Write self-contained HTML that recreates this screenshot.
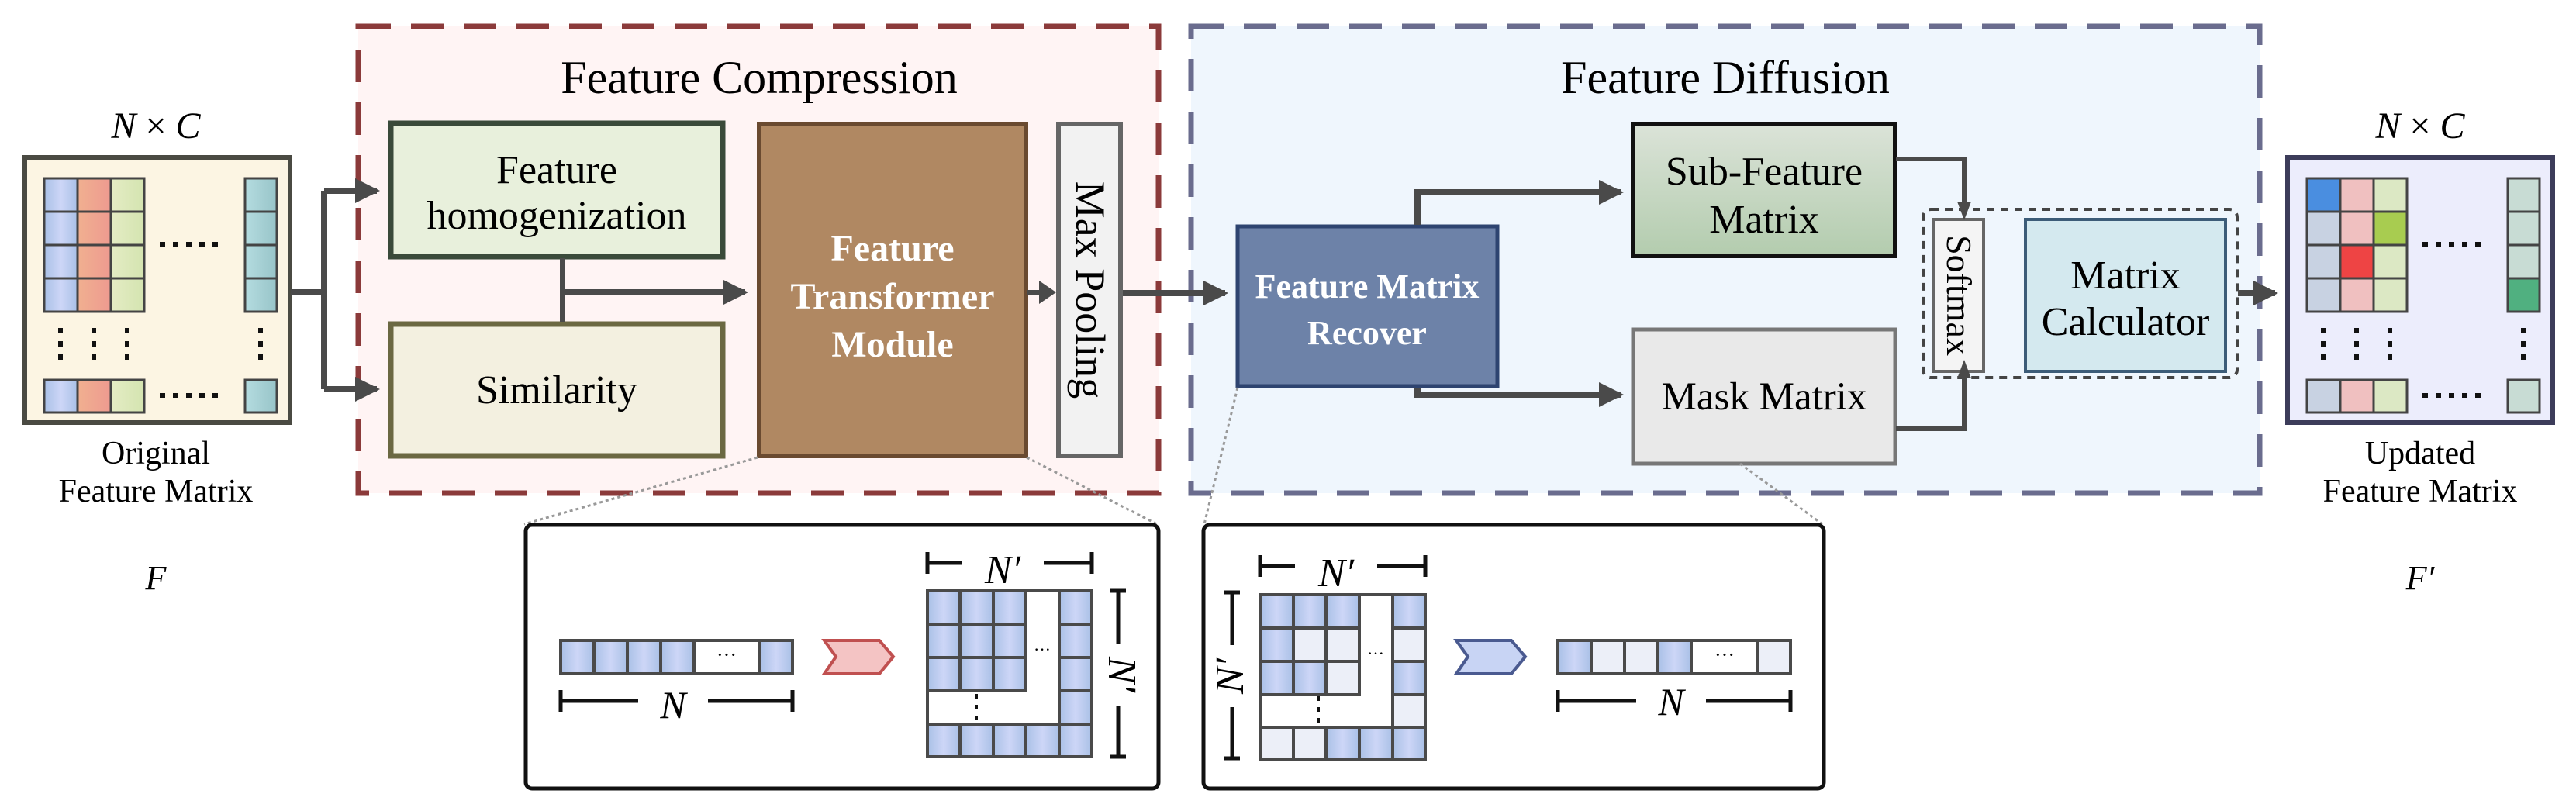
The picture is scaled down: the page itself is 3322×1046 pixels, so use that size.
<!DOCTYPE html>
<html><head><meta charset="utf-8"><style>
html,body{margin:0;padding:0;background:#fff;}
svg{display:block;}
text{font-family:"Liberation Serif",serif;}
</style></head><body>
<svg width="3322" height="1046" viewBox="0 0 3322 1046" xmlns="http://www.w3.org/2000/svg">
<defs>
<linearGradient id="gb" x1="0" x2="1"><stop offset="0" stop-color="#a9c0e6"/><stop offset="0.5" stop-color="#cdd6f7"/><stop offset="1" stop-color="#a9c0e6"/></linearGradient>
<linearGradient id="gr" x1="0" x2="1"><stop offset="0" stop-color="#f0b090"/><stop offset="1" stop-color="#ee9a90"/></linearGradient>
<linearGradient id="gg" x1="0" x2="1"><stop offset="0" stop-color="#e4ecc4"/><stop offset="1" stop-color="#d4e4b0"/></linearGradient>
<linearGradient id="gt" x1="0" x2="1"><stop offset="0" stop-color="#b4dce0"/><stop offset="1" stop-color="#98c4c8"/></linearGradient>
<linearGradient id="gsub" x1="0" y1="0" x2="0" y2="1"><stop offset="0" stop-color="#dbe3d8"/><stop offset="1" stop-color="#b3ccae"/></linearGradient>
<marker id="ah" markerWidth="4" markerHeight="4" refX="3.5" refY="2" orient="auto" markerUnits="strokeWidth"><path d="M0,0 L4,2 L0,4 z" fill="#4a4a4a"/></marker>
</defs>

<!-- dashed regions -->
<rect x="462" y="34" width="1032" height="602" fill="#fff4f4" stroke="#8b3a3a" stroke-width="7" stroke-dasharray="42,26"/>
<rect x="1536" y="34" width="1378" height="602" fill="#eff6fd" stroke="#6a6c8e" stroke-width="7" stroke-dasharray="42,26"/>
<text x="979" y="120" font-size="60" text-anchor="middle">Feature Compression</text>
<text x="2225" y="120" font-size="60" text-anchor="middle">Feature Diffusion</text>

<!-- left matrix -->
<text x="201" y="178" font-size="48" text-anchor="middle" font-style="italic">N <tspan font-style="normal">×</tspan> C</text>
<rect x="32" y="203" width="342" height="342" fill="#fcf5e3" stroke="#4a4a42" stroke-width="6"/>
<g stroke="#444" stroke-width="3">
<rect x="57" y="230" width="43" height="43" fill="url(#gb)"/><rect x="100" y="230" width="43" height="43" fill="url(#gr)"/><rect x="143" y="230" width="43" height="43" fill="url(#gg)"/>
<rect x="57" y="273" width="43" height="43" fill="url(#gb)"/><rect x="100" y="273" width="43" height="43" fill="url(#gr)"/><rect x="143" y="273" width="43" height="43" fill="url(#gg)"/>
<rect x="57" y="316" width="43" height="43" fill="url(#gb)"/><rect x="100" y="316" width="43" height="43" fill="url(#gr)"/><rect x="143" y="316" width="43" height="43" fill="url(#gg)"/>
<rect x="57" y="359" width="43" height="43" fill="url(#gb)"/><rect x="100" y="359" width="43" height="43" fill="url(#gr)"/><rect x="143" y="359" width="43" height="43" fill="url(#gg)"/>
<rect x="316" y="230" width="41" height="43" fill="url(#gt)"/><rect x="316" y="273" width="41" height="43" fill="url(#gt)"/><rect x="316" y="316" width="41" height="43" fill="url(#gt)"/><rect x="316" y="359" width="41" height="43" fill="url(#gt)"/>
<rect x="57" y="490" width="43" height="42" fill="url(#gb)"/><rect x="100" y="490" width="43" height="42" fill="url(#gr)"/><rect x="143" y="490" width="43" height="42" fill="url(#gg)"/>
<rect x="316" y="490" width="41" height="42" fill="url(#gt)"/>
</g>
<g stroke="#111" stroke-width="6" stroke-dasharray="7,10">
<line x1="206" y1="315" x2="290" y2="315"/><line x1="206" y1="510" x2="290" y2="510"/>
<line x1="78" y1="423" x2="78" y2="467"/><line x1="121" y1="423" x2="121" y2="467"/><line x1="164" y1="423" x2="164" y2="467"/><line x1="336" y1="423" x2="336" y2="467"/>
</g>
<text x="201" y="598" font-size="42" text-anchor="middle">Original</text>
<text x="201" y="647" font-size="42" text-anchor="middle">Feature Matrix</text>
<text x="201" y="760" font-size="44" text-anchor="middle" font-style="italic">F</text>

<!-- compression boxes -->
<rect x="504" y="159" width="428" height="172" fill="#e8f0dc" stroke="#3a4a3a" stroke-width="7"/>
<text x="718" y="236" font-size="52" text-anchor="middle">Feature</text>
<text x="718" y="295" font-size="52" text-anchor="middle">homogenization</text>
<rect x="504" y="418" width="428" height="170" fill="#f3f0e0" stroke="#6b6842" stroke-width="7"/>
<text x="718" y="520" font-size="52" text-anchor="middle">Similarity</text>
<rect x="979" y="160" width="344" height="428" fill="#b08862" stroke="#6a4a30" stroke-width="6"/>
<text x="1151" y="336" font-size="48" text-anchor="middle" fill="#fff" font-weight="bold">Feature</text>
<text x="1151" y="398" font-size="48" text-anchor="middle" fill="#fff" font-weight="bold">Transformer</text>
<text x="1151" y="460" font-size="48" text-anchor="middle" fill="#fff" font-weight="bold">Module</text>
<rect x="1365" y="160" width="80" height="428" fill="#f2f2f2" stroke="#666" stroke-width="6"/>
<text transform="translate(1388,374) rotate(90)" font-size="54" text-anchor="middle">Max Pooling</text>

<!-- diffusion boxes -->
<rect x="1596" y="292" width="335" height="206" fill="#6d82a8" stroke="#2e4470" stroke-width="5"/>
<text x="1763" y="384" font-size="44" text-anchor="middle" fill="#fff" font-weight="bold">Feature Matrix</text>
<text x="1763" y="444" font-size="44" text-anchor="middle" fill="#fff" font-weight="bold">Recover</text>
<rect x="2106" y="160" width="338" height="170" fill="url(#gsub)" stroke="#111" stroke-width="6"/>
<text x="2275" y="238" font-size="52" text-anchor="middle">Sub-Feature</text>
<text x="2275" y="300" font-size="52" text-anchor="middle">Matrix</text>
<rect x="2106" y="425" width="338" height="173" fill="#e9e9e9" stroke="#777" stroke-width="5"/>
<text x="2275" y="528" font-size="51" text-anchor="middle">Mask Matrix</text>
<rect x="2480" y="270" width="405" height="217" rx="10" fill="none" stroke="#444" stroke-width="4" stroke-dasharray="10,8"/>
<rect x="2494" y="283" width="64" height="196" fill="#f4f4f4" stroke="#666" stroke-width="4"/>
<text transform="translate(2511,381) rotate(90)" font-size="46" text-anchor="middle">Softmax</text>
<rect x="2612" y="283" width="258" height="196" fill="#d4e9ef" stroke="#3c5c78" stroke-width="4"/>
<text x="2741" y="372" font-size="52" text-anchor="middle">Matrix</text>
<text x="2741" y="432" font-size="52" text-anchor="middle">Calculator</text>

<!-- right matrix -->
<text x="3121" y="178" font-size="48" text-anchor="middle" font-style="italic">N <tspan font-style="normal">×</tspan> C</text>
<rect x="2950" y="203" width="342" height="342" fill="#ecedfc" stroke="#3c3c5a" stroke-width="6"/>
<g stroke="#444" stroke-width="3">
<rect x="2975" y="230" width="43" height="43" fill="#4a8ee0"/><rect x="3018" y="230" width="43" height="43" fill="#f0c0c0"/><rect x="3061" y="230" width="43" height="43" fill="#dce8c4"/>
<rect x="2975" y="273" width="43" height="43" fill="#c8d2e2"/><rect x="3018" y="273" width="43" height="43" fill="#f0c0c0"/><rect x="3061" y="273" width="43" height="43" fill="#a8cc50"/>
<rect x="2975" y="316" width="43" height="43" fill="#c8d2e2"/><rect x="3018" y="316" width="43" height="43" fill="#ee4444"/><rect x="3061" y="316" width="43" height="43" fill="#dce8c4"/>
<rect x="2975" y="359" width="43" height="43" fill="#c8d2e2"/><rect x="3018" y="359" width="43" height="43" fill="#f0c0c0"/><rect x="3061" y="359" width="43" height="43" fill="#dce8c4"/>
<rect x="3234" y="230" width="41" height="43" fill="#c8dcd4"/><rect x="3234" y="273" width="41" height="43" fill="#c8dcd4"/><rect x="3234" y="316" width="41" height="43" fill="#c8dcd4"/><rect x="3234" y="359" width="41" height="43" fill="#50b080"/>
<rect x="2975" y="490" width="43" height="42" fill="#c8d2e2"/><rect x="3018" y="490" width="43" height="42" fill="#f0c0c0"/><rect x="3061" y="490" width="43" height="42" fill="#dce8c4"/>
<rect x="3234" y="490" width="41" height="42" fill="#c8dcd4"/>
</g>
<g stroke="#111" stroke-width="6" stroke-dasharray="7,10">
<line x1="3124" y1="315" x2="3208" y2="315"/><line x1="3124" y1="510" x2="3208" y2="510"/>
<line x1="2996" y1="423" x2="2996" y2="467"/><line x1="3039" y1="423" x2="3039" y2="467"/><line x1="3082" y1="423" x2="3082" y2="467"/><line x1="3254" y1="423" x2="3254" y2="467"/>
</g>
<text x="3121" y="598" font-size="42" text-anchor="middle">Updated</text>
<text x="3121" y="647" font-size="42" text-anchor="middle">Feature Matrix</text>
<text x="3121" y="760" font-size="44" text-anchor="middle" font-style="italic">F′</text>

<!-- connectors -->
<g stroke="#4a4a4a" stroke-width="8" fill="none">
<polyline points="375,377 418,377"/>
<polyline points="418,246 418,502"/>
<line x1="418" y1="246" x2="486" y2="246" marker-end="url(#ah)"/>
<line x1="418" y1="502" x2="486" y2="502" marker-end="url(#ah)"/>
<line x1="725" y1="333" x2="725" y2="415" stroke-width="6"/>
<line x1="725" y1="377" x2="961" y2="377" marker-end="url(#ah)"/>
<line x1="1324" y1="377" x2="1345" y2="377" stroke-width="6"/>
<path d="M1340,362 L1362,377 L1340,392 z" fill="#4a4a4a" stroke="none"/>
<line x1="1448" y1="378" x2="1580" y2="378" marker-end="url(#ah)"/>
<polyline points="1828,290 1828,248 2090,248" marker-end="url(#ah)"/>
<polyline points="1828,500 1828,509 2090,509" marker-end="url(#ah)"/>
<polyline points="2445,205 2533,205 2533,264" stroke-width="6"/>
<path d="M2524,260 L2533,284 L2542,260 z" fill="#4a4a4a" stroke="none"/>
<polyline points="2445,553 2533,553 2533,486" stroke-width="6"/>
<path d="M2524,488 L2533,464 L2542,488 z" fill="#4a4a4a" stroke="none"/>
<line x1="2886" y1="378" x2="2934" y2="378" marker-end="url(#ah)"/>
</g>

<!-- leader dotted lines -->
<g stroke="#999" stroke-width="3" stroke-dasharray="4,4" fill="none">
<line x1="977" y1="590" x2="676" y2="676"/>
<line x1="1324" y1="590" x2="1492" y2="676"/>
<line x1="1596" y1="500" x2="1553" y2="676"/>
<line x1="2244" y1="598" x2="2350" y2="676"/>
</g>

<!-- bottom panels -->
<rect x="678" y="677" width="816" height="340" rx="8" fill="#fff" stroke="#111" stroke-width="5"/>
<rect x="1552" y="677" width="800" height="340" rx="8" fill="#fff" stroke="#111" stroke-width="5"/>

<!-- left panel contents -->
<g stroke="#4a4a4a" stroke-width="4">
<rect x="723" y="826" width="43" height="43" fill="url(#gb)"/><rect x="766" y="826" width="43" height="43" fill="url(#gb)"/><rect x="809" y="826" width="43" height="43" fill="url(#gb)"/><rect x="852" y="826" width="43" height="43" fill="url(#gb)"/><rect x="895" y="826" width="85" height="43" fill="#fff"/><rect x="980" y="826" width="42" height="43" fill="url(#gb)"/>
</g>
<text x="937" y="853" font-size="26" text-anchor="middle">···</text>
<g stroke="#111" stroke-width="5"><line x1="723" y1="904" x2="823" y2="904"/><line x1="913" y1="904" x2="1022" y2="904"/><line x1="723" y1="890" x2="723" y2="918"/><line x1="1022" y1="890" x2="1022" y2="918"/></g>
<text x="868" y="926" font-size="50" text-anchor="middle" font-style="italic">N</text>
<path d="M1063,826 L1134,826 L1152,847 L1134,869 L1063,869 L1078,847 z" fill="#f4c4c4" stroke="#c05050" stroke-width="4"/>
<g stroke="#4a4a4a" stroke-width="4">
<rect x="1196" y="762" width="42" height="43" fill="url(#gb)"/><rect x="1238" y="762" width="43" height="43" fill="url(#gb)"/><rect x="1281" y="762" width="42" height="43" fill="url(#gb)"/><rect x="1366" y="762" width="42" height="43" fill="url(#gb)"/>
<rect x="1196" y="805" width="42" height="43" fill="url(#gb)"/><rect x="1238" y="805" width="43" height="43" fill="url(#gb)"/><rect x="1281" y="805" width="42" height="43" fill="url(#gb)"/><rect x="1366" y="805" width="42" height="43" fill="url(#gb)"/>
<rect x="1196" y="848" width="42" height="43" fill="url(#gb)"/><rect x="1238" y="848" width="43" height="43" fill="url(#gb)"/><rect x="1281" y="848" width="42" height="43" fill="url(#gb)"/><rect x="1366" y="848" width="42" height="43" fill="url(#gb)"/>
<rect x="1366" y="891" width="42" height="43" fill="url(#gb)"/>
<rect x="1196" y="934" width="42" height="42" fill="url(#gb)"/><rect x="1238" y="934" width="43" height="42" fill="url(#gb)"/><rect x="1281" y="934" width="42" height="42" fill="url(#gb)"/><rect x="1323" y="934" width="43" height="42" fill="url(#gb)"/><rect x="1366" y="934" width="42" height="42" fill="url(#gb)"/>
<line x1="1323" y1="762" x2="1366" y2="762"/><line x1="1196" y1="891" x2="1196" y2="934"/>
</g>
<text x="1344" y="845" font-size="22" text-anchor="middle">···</text>
<g stroke="#111" stroke-width="4" stroke-dasharray="6,8"><line x1="1259" y1="895" x2="1259" y2="930"/></g>
<g stroke="#111" stroke-width="5"><line x1="1196" y1="726" x2="1240" y2="726"/><line x1="1346" y1="726" x2="1408" y2="726"/><line x1="1196" y1="712" x2="1196" y2="740"/><line x1="1408" y1="712" x2="1408" y2="740"/>
<line x1="1442" y1="762" x2="1442" y2="830"/><line x1="1442" y1="910" x2="1442" y2="976"/><line x1="1432" y1="762" x2="1452" y2="762"/><line x1="1432" y1="976" x2="1452" y2="976"/></g>
<text x="1293" y="752" font-size="52" text-anchor="middle" font-style="italic">N′</text>
<text transform="translate(1430,870) rotate(90)" font-size="52" text-anchor="middle" font-style="italic">N′</text>

<!-- right panel contents -->
<g stroke="#4a4a4a" stroke-width="4">
<rect x="1625" y="767" width="43" height="43" fill="url(#gb)"/><rect x="1668" y="767" width="42" height="43" fill="url(#gb)"/><rect x="1710" y="767" width="43" height="43" fill="url(#gb)"/><rect x="1796" y="767" width="42" height="43" fill="url(#gb)"/>
<rect x="1625" y="810" width="43" height="43" fill="url(#gb)"/><rect x="1668" y="810" width="42" height="43" fill="#eceff8"/><rect x="1710" y="810" width="43" height="43" fill="#eceff8"/><rect x="1796" y="810" width="42" height="43" fill="#eceff8"/>
<rect x="1625" y="853" width="43" height="43" fill="url(#gb)"/><rect x="1668" y="853" width="42" height="43" fill="url(#gb)"/><rect x="1710" y="853" width="43" height="43" fill="#eceff8"/><rect x="1796" y="853" width="42" height="43" fill="url(#gb)"/>
<rect x="1796" y="896" width="42" height="42" fill="#eceff8"/>
<rect x="1625" y="938" width="43" height="42" fill="#eceff8"/><rect x="1668" y="938" width="42" height="42" fill="#eceff8"/><rect x="1710" y="938" width="43" height="42" fill="url(#gb)"/><rect x="1753" y="938" width="43" height="42" fill="url(#gb)"/><rect x="1796" y="938" width="42" height="42" fill="url(#gb)"/>
<line x1="1753" y1="767" x2="1796" y2="767"/><line x1="1625" y1="896" x2="1625" y2="938"/>
</g>
<text x="1774" y="850" font-size="22" text-anchor="middle">···</text>
<g stroke="#111" stroke-width="4" stroke-dasharray="6,8"><line x1="1700" y1="898" x2="1700" y2="934"/></g>
<g stroke="#111" stroke-width="5"><line x1="1625" y1="730" x2="1670" y2="730"/><line x1="1776" y1="730" x2="1838" y2="730"/><line x1="1625" y1="716" x2="1625" y2="744"/><line x1="1838" y1="716" x2="1838" y2="744"/>
<line x1="1589" y1="764" x2="1589" y2="832"/><line x1="1589" y1="912" x2="1589" y2="978"/><line x1="1579" y1="764" x2="1599" y2="764"/><line x1="1579" y1="978" x2="1599" y2="978"/></g>
<text x="1723" y="756" font-size="52" text-anchor="middle" font-style="italic">N′</text>
<text transform="translate(1603,872) rotate(-90)" font-size="52" text-anchor="middle" font-style="italic">N′</text>
<path d="M1878,826 L1949,826 L1967,847 L1949,869 L1878,869 L1893,847 z" fill="#c8d4f4" stroke="#4a5a90" stroke-width="4"/>
<g stroke="#4a4a4a" stroke-width="4">
<rect x="2009" y="826" width="43" height="43" fill="url(#gb)"/><rect x="2052" y="826" width="43" height="43" fill="#eceff8"/><rect x="2095" y="826" width="43" height="43" fill="#eceff8"/><rect x="2138" y="826" width="43" height="43" fill="url(#gb)"/><rect x="2181" y="826" width="86" height="43" fill="#fff"/><rect x="2267" y="826" width="42" height="43" fill="#eceff8"/>
</g>
<text x="2224" y="853" font-size="26" text-anchor="middle">···</text>
<g stroke="#111" stroke-width="5"><line x1="2009" y1="904" x2="2110" y2="904"/><line x1="2200" y1="904" x2="2309" y2="904"/><line x1="2009" y1="890" x2="2009" y2="918"/><line x1="2309" y1="890" x2="2309" y2="918"/></g>
<text x="2155" y="922" font-size="50" text-anchor="middle" font-style="italic">N</text>
</svg>
</body></html>
